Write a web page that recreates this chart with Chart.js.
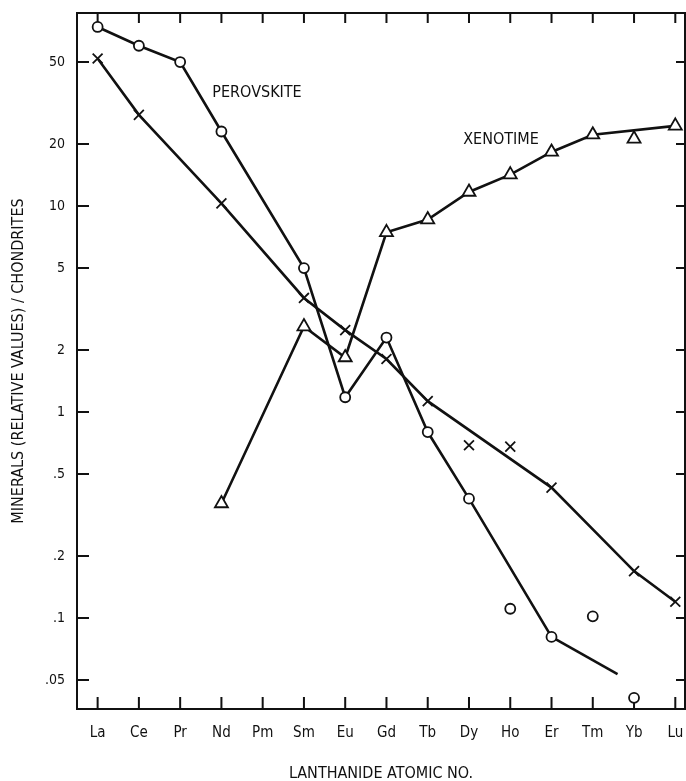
<!DOCTYPE html>
<html>
<head>
<meta charset="utf-8">
<script src="https://cdn.jsdelivr.net/npm/chart.js@4.4.0/dist/chart.umd.min.js"></script>
<style>
  html, body { margin: 0; padding: 0; background: #fff; }
  canvas { display: block; }
</style>
</head>
<body>
<canvas id="ree" width="686" height="781"></canvas>
<script>
// Lanthanide series along the x axis
const categories = ['La', 'Ce', 'Pr', 'Nd', 'Pm', 'Sm', 'Eu', 'Gd', 'Tb', 'Dy', 'Ho', 'Er', 'Tm', 'Yb', 'Lu'];

// Chondrite-normalised values (relative)
const perovskite      = [74, 60, 50, 23, null, 5.0, 1.18, 2.3, 0.80, 0.38, null, 0.081, null, null, null];
const perovskiteLoose = [null, null, null, null, null, null, null, null, null, null, 0.111, null, 0.102, 0.041, null];
// trend line beyond Er runs out between Tm and Yb
const perovskiteTrendEnd = { at: 12.6, value: 0.0535 };

const xenotime      = [null, null, null, 0.36, null, 2.6, 1.84, 7.45, 8.6, 11.7, 14.2, 18.3, 22.2, null, 24.5];
const xenotimeLoose = [null, null, null, null, null, null, null, null, null, null, null, null, null, 21.2, null];

const crosses      = [52, 27.7, null, 10.3, null, 3.58, 2.5, 1.81, 1.13, null, null, 0.43, null, 0.169, 0.12];
const crossesLoose = [null, null, null, null, null, null, null, null, null, 0.69, 0.68, null, null, null, null];

// y axis ticks
const yTickValues = [50, 20, 10, 5, 2, 1, 0.5, 0.2, 0.1, 0.05];
const yTickLabels = ['50', '20', '10', '5', '2', '1', '.5', '.2', '.1', '.05'];

const FONT = "'DejaVu Sans Condensed', 'Liberation Sans Narrow', 'DejaVu Sans', sans-serif";
const INK = '#111';

const toPoints = arr => arr.map((v, i) => (v == null ? null : { x: i, y: v })).filter(Boolean);

const lastIndex = arr => { let k = -1; arr.forEach((v, i) => { if (v != null) k = i; }); return k; };
const pIdx = lastIndex(perovskite);

const lineStyle = {
  borderColor: INK,
  borderWidth: 2.6,
  tension: 0,
  pointBackgroundColor: '#fff',
  pointBorderColor: INK,
  pointBorderWidth: 1.8,
  clip: false
};

const chartLabels = {
  id: 'frameAndLabels',
  beforeDatasetsDraw(chart) {
    const { ctx, chartArea: a, scales: { x, y } } = chart;
    ctx.save();
    ctx.strokeStyle = INK;
    ctx.lineWidth = 2;
    ctx.strokeRect(a.left, a.top, a.right - a.left, a.bottom - a.top);
    ctx.beginPath();
    categories.forEach((c, i) => {
      const px = x.getPixelForValue(i);
      ctx.moveTo(px, a.bottom); ctx.lineTo(px, a.bottom - 12);
      ctx.moveTo(px, a.top); ctx.lineTo(px, a.top + 10);
    });
    yTickValues.forEach(v => {
      const py = y.getPixelForValue(v);
      ctx.moveTo(a.left, py); ctx.lineTo(a.left + 12, py);
      ctx.moveTo(a.right, py); ctx.lineTo(a.right - 9, py);
    });
    ctx.stroke();
    ctx.restore();
  },
  afterDatasetsDraw(chart) {
    const { ctx, scales: { x, y } } = chart;
    ctx.save();
    ctx.fillStyle = INK;
    ctx.font = '16px ' + FONT;
    ctx.textAlign = 'left';
    ctx.textBaseline = 'middle';
    ctx.fillText('PEROVSKITE', x.getPixelForValue(2.78), y.getPixelForValue(35.4));
    ctx.fillText('XENOTIME', x.getPixelForValue(8.86), y.getPixelForValue(20.9));
    ctx.restore();
  }
};

new Chart(document.getElementById('ree'), {
  type: 'line',
  data: {
    datasets: [
      { ...lineStyle, data: toPoints(perovskite), pointStyle: 'circle', pointRadius: 5 },
      { ...lineStyle, data: toPoints(perovskiteLoose), showLine: false, pointStyle: 'circle', pointRadius: 5 },
      { ...lineStyle, data: [{ x: pIdx, y: perovskite[pIdx] }, { x: perovskiteTrendEnd.at, y: perovskiteTrendEnd.value }], pointRadius: 0 },
      { ...lineStyle, data: toPoints(xenotime), pointStyle: 'triangle', pointRadius: 7.5 },
      { ...lineStyle, data: toPoints(xenotimeLoose), showLine: false, pointStyle: 'triangle', pointRadius: 7.5 },
      { ...lineStyle, data: toPoints(crosses), pointStyle: 'crossRot', pointRadius: 7, pointBorderWidth: 1.8 },
      { ...lineStyle, data: toPoints(crossesLoose), showLine: false, pointStyle: 'crossRot', pointRadius: 7, pointBorderWidth: 1.8 }
    ]
  },
  options: {
    responsive: false,
    devicePixelRatio: 1,
    animation: false,
    layout: { autoPadding: false, padding: { top: 13, right: 1, left: 0, bottom: 0 } },
    plugins: { legend: { display: false }, tooltip: { enabled: false } },
    scales: {
      x: {
        type: 'linear',
        min: -0.5,
        max: 14.235,
        grid: { display: false, drawTicks: false },
        border: { display: false },
        // blank ticks at both ends keep the edge labels from padding the plot area
        afterBuildTicks: s => {
          s.ticks = [{ value: s.min }, ...categories.map((c, i) => ({ value: i })), { value: s.max }];
        },
        afterFit: s => { s.height = 72; s.paddingLeft = 0; s.paddingRight = 0; },
        ticks: {
          autoSkip: false,
          maxRotation: 0,
          padding: 15,
          color: INK,
          font: { family: FONT, size: 15 },
          callback: v => (Number.isInteger(v) ? categories[v] ?? '' : '')
        },
        title: {
          display: true,
          text: 'LANTHANIDE ATOMIC NO.',
          color: INK,
          font: { family: FONT, size: 16 },
          padding: { top: 0, bottom: -2 }
        }
      },
      y: {
        type: 'logarithmic',
        min: 0.0362,
        max: 86.5,
        grid: { display: false, drawTicks: false },
        border: { display: false },
        afterBuildTicks: s => { s.ticks = yTickValues.map(v => ({ value: v })); },
        afterFit: s => { s.width = 77; s.paddingTop = 0; s.paddingBottom = 0; },
        ticks: {
          padding: 12,
          color: INK,
          font: { family: FONT, size: 14 },
          callback: v => yTickLabels[yTickValues.indexOf(v)] ?? ''
        },
        title: {
          display: true,
          text: 'MINERALS (RELATIVE VALUES) / CHONDRITES',
          color: INK,
          font: { family: FONT, size: 16 },
          padding: { top: 9, bottom: 0 }
        }
      }
    }
  },
  plugins: [chartLabels]
});
</script>
</body>
</html>
